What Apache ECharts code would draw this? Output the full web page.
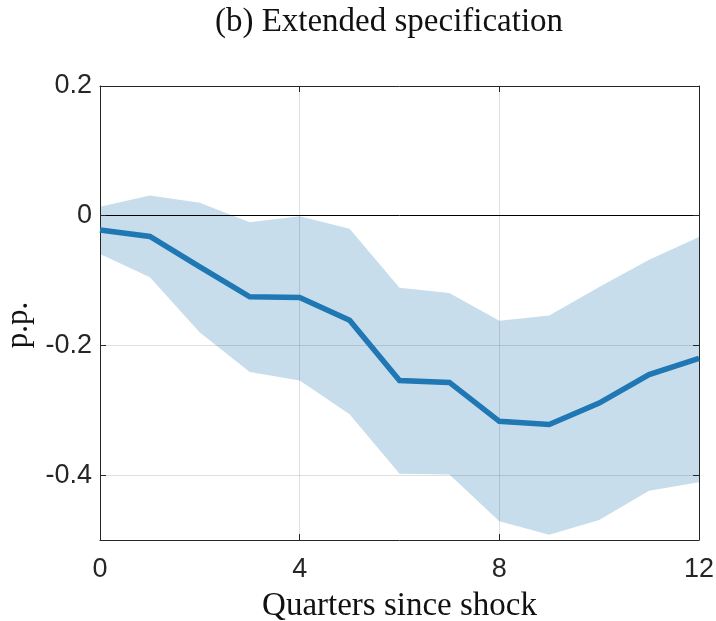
<!DOCTYPE html>
<html>
<head>
<meta charset="utf-8">
<script src="https://cdn.jsdelivr.net/npm/echarts@6/dist/echarts.min.js"></script>
<style>html,body{margin:0;padding:0;background:#fff}#c{width:716px;height:621px}</style>
</head>
<body>
<div id="c"></div>
<script>
const quarters = [0,1,2,3,4,5,6,7,8,9,10,11,12];
const response = [-0.022,-0.032,-0.079,-0.125,-0.126,-0.161,-0.254,-0.257,-0.317,-0.322,-0.289,-0.245,-0.220];
const upperBand = [0.014,0.031,0.020,-0.010,-0.001,-0.020,-0.111,-0.119,-0.162,-0.154,-0.110,-0.068,-0.033];
const lowerBand = [-0.059,-0.095,-0.180,-0.241,-0.254,-0.306,-0.398,-0.399,-0.471,-0.492,-0.469,-0.424,-0.411];
const xTicks = [0,4,8,12];
const yTicks = [-0.4,-0.2,0,0.2];

const chart = echarts.init(document.getElementById('c'), null, {renderer:'canvas'});
const axisCol = '#262626';
const gridCol = 'rgba(0,0,0,0.12)';
const sans = 'Liberation Sans';
const serif = 'Liberation Serif';

const bandData = quarters.map((q,i)=>[q, lowerBand[i], upperBand[i]]);

chart.setOption({
  animation:false,
  title:{text:'(b) Extended specification', left:384, top:1, textAlign:'center',
    textStyle:{fontFamily:serif, fontWeight:'normal', fontSize:33, color:'#111'}},
  grid:{left:100, right:17, top:86, bottom:81, outerBoundsMode:'none', containLabel:false},
  xAxis:[{
    type:'value', min:0, max:12, interval:4, z:5,
    name:'Quarters since shock', nameLocation:'middle', nameGap:50,
    nameTextStyle:{fontFamily:serif, fontSize:33, color:'#111'},
    axisLine:{show:true, onZero:false, lineStyle:{color:axisCol, width:1}},
    axisTick:{show:true, inside:true, length:6, lineStyle:{color:axisCol}, customValues:xTicks},
    axisLabel:{fontFamily:sans, fontSize:27, color:axisCol, margin:16, customValues:xTicks},
    splitLine:{show:true, lineStyle:{color:gridCol, width:1}}
  },{
    type:'value', min:0, max:12, interval:4, position:'top', z:5,
    axisLine:{show:true, onZero:false, lineStyle:{color:axisCol, width:1}},
    axisTick:{show:true, inside:true, length:6, lineStyle:{color:axisCol}, customValues:xTicks},
    axisLabel:{show:false}, splitLine:{show:false}
  }],
  yAxis:[{
    type:'value', min:-0.5, max:0.2, z:5,
    name:'p.p.', nameLocation:'middle', nameGap:64, nameRotate:90,
    nameTextStyle:{fontFamily:serif, fontSize:31, color:'#111', padding:[0,24,0,0]},
    axisLine:{show:true, onZero:false, lineStyle:{color:axisCol, width:1}},
    axisTick:{show:true, inside:true, length:6, lineStyle:{color:axisCol}, customValues:yTicks},
    axisLabel:{fontFamily:sans, fontSize:27, color:axisCol, margin:8, customValues:yTicks,
      formatter:v=>String(Math.round(v*10)/10)},
    splitLine:{show:true, lineStyle:{color:gridCol, width:1}}
  },{
    type:'value', min:-0.5, max:0.2, position:'right', z:5,
    axisLine:{show:true, onZero:false, lineStyle:{color:axisCol, width:1}},
    axisTick:{show:true, inside:true, length:6, lineStyle:{color:axisCol}, customValues:yTicks},
    axisLabel:{show:false}, splitLine:{show:false}
  }],
  series:[
    {type:'custom', data:bandData, silent:true, z:1, clip:true,
     renderItem:function(params, api){
       if (params.dataIndex !== 0) return null;
       const pts = [];
       for (let i=0;i<bandData.length;i++) pts.push(api.coord([bandData[i][0], bandData[i][2]]));
       for (let i=bandData.length-1;i>=0;i--) pts.push(api.coord([bandData[i][0], bandData[i][1]]));
       return {type:'polygon', shape:{points:pts}, style:{fill:'rgb(199,221,236)', stroke:null}};
     }},
    {type:'line', data:quarters.map((q,i)=>[q,response[i]]), symbol:'none', z:6,
     lineStyle:{color:'#1f77b4', width:5.5, join:'miter'},
     markLine:{silent:true, symbol:'none', label:{show:false},
       lineStyle:{color:'#000', width:1, type:'solid'}, data:[{yAxis:0}]}}
  ]
});
</script>
</body>
</html>
